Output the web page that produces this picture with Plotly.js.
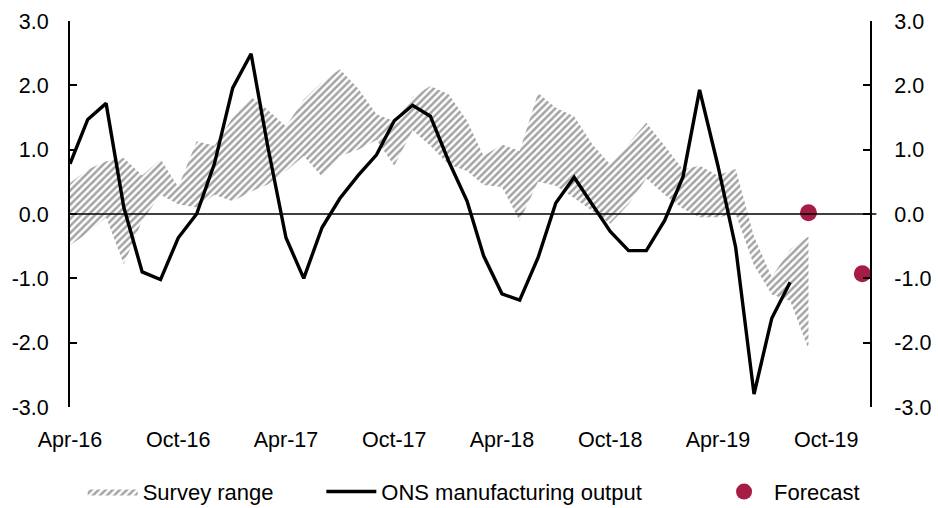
<!DOCTYPE html>
<html>
<head>
<meta charset="utf-8">
<script src="https://cdn.plot.ly/plotly-3.0.1.min.js"></script>
<style>html,body{margin:0;padding:0;background:#fff;}#chart{width:938px;height:508px;}</style>
</head>
<body>
<div id="chart"></div>
<script>
const months = [
  '2016-04-01','2016-05-01','2016-06-01','2016-07-01','2016-08-01','2016-09-01','2016-10-01','2016-11-01','2016-12-01',
  '2017-01-01','2017-02-01','2017-03-01','2017-04-01','2017-05-01','2017-06-01','2017-07-01','2017-08-01','2017-09-01',
  '2017-10-01','2017-11-01','2017-12-01','2018-01-01','2018-02-01','2018-03-01','2018-04-01','2018-05-01','2018-06-01',
  '2018-07-01','2018-08-01','2018-09-01','2018-10-01','2018-11-01','2018-12-01','2019-01-01','2019-02-01','2019-03-01',
  '2019-04-01','2019-05-01','2019-06-01','2019-07-01','2019-08-01','2019-09-01'
];
const surveyUpper = [0.48,0.69,0.82,0.87,0.60,0.85,0.42,1.13,1.06,1.50,1.82,1.62,1.36,1.78,2.05,2.25,1.95,1.55,1.44,1.82,1.99,1.86,1.45,0.90,1.08,0.98,1.88,1.65,1.52,1.08,0.77,1.10,1.42,1.06,0.69,0.75,0.60,0.70,-0.35,-0.98,-0.55,-0.35];
const surveyLower = [-0.48,-0.30,-0.05,-0.78,-0.10,0.30,0.15,0.10,0.30,0.20,0.35,0.46,0.67,0.90,0.58,0.90,1.00,1.15,0.75,1.30,1.06,0.77,0.67,0.45,0.42,-0.11,0.50,0.44,0.25,0.05,-0.15,0.15,0.55,0.30,0.08,-0.05,-0.05,0.00,-0.80,-1.25,-1.35,-2.10];
const onsOutput = [0.78,1.47,1.72,0.10,-0.90,-1.02,-0.37,0.00,0.78,1.96,2.49,1.06,-0.37,-1.00,-0.21,0.24,0.60,0.92,1.45,1.69,1.52,0.82,0.20,-0.65,-1.24,-1.34,-0.68,0.17,0.57,0.15,-0.27,-0.57,-0.57,-0.10,0.58,1.93,0.75,-0.52,-2.80,-1.62,-1.06];
const forecastDates = ['2019-09-01','2019-12-01'];
const forecastValues = [0.02,-0.93];
const yTickVals = [-3,-2,-1,0,1,2,3];
const yTickText = ['-3.0','-2.0','-1.0','0.0','1.0','2.0','3.0'];
const xTickVals = ['2016-04-01','2016-10-01','2017-04-01','2017-10-01','2018-04-01','2018-10-01','2019-04-01','2019-10-01'];
const xTickText = ['Apr-16','Oct-16','Apr-17','Oct-17','Apr-18','Oct-18','Apr-19','Oct-19'];
const seriesNames = ['Survey range', 'ONS manufacturing output', 'Forecast'];

const font = {family: '"Liberation Sans", Arial, sans-serif', size: 21.5, color: '#000'};
const legendFont = {family: '"Liberation Sans", Arial, sans-serif', size: 22, color: '#000'};
const pad = n => '\u00a0'.repeat(n);

const traces = [
  {x: months, y: surveyLower, type: 'scatter', mode: 'lines', line: {width: 0, color: 'rgba(0,0,0,0)'},
   showlegend: false, hoverinfo: 'skip'},
  {x: months, y: surveyUpper, type: 'scatter', mode: 'lines', name: seriesNames[0] + pad(7), fill: 'tonexty',
   line: {width: 0, color: 'rgba(0,0,0,0)'}, fillcolor: 'rgba(0,0,0,0)',
   fillpattern: {shape: '/', fgcolor: '#a3a3a3', bgcolor: 'rgba(255,255,255,0)', size: 5, solidity: 0.5}},
  {x: months.slice(0, onsOutput.length), y: onsOutput, type: 'scatter', mode: 'lines', name: seriesNames[1] + pad(11),
   line: {color: '#000', width: 3.4}},
  {x: forecastDates, y: forecastValues, type: 'scatter', mode: 'markers', name: seriesNames[2], yaxis: 'y2',
   marker: {color: '#a51d45', size: 17}}
];

const yBase = {range: [-3, 3], tickvals: yTickVals, ticktext: yTickText, showgrid: false, zeroline: false,
  showline: true, linecolor: '#000', linewidth: 2, ticks: 'inside', ticklen: 7, tickwidth: 2, tickcolor: '#000',
  tickfont: font, fixedrange: true};

const layout = {
  width: 938, height: 508,
  margin: {l: 70, r: 68, t: 21, b: 101},
  paper_bgcolor: '#fff', plot_bgcolor: '#fff',
  font: font,
  showlegend: true,
  xaxis: {type: 'date', range: ['2016-04-01', '2019-12-14'], tickvals: xTickVals, ticktext: xTickText,
    showgrid: false, zeroline: false, showline: false, ticks: '', tickfont: font, ticklabelstandoff: 17},
  yaxis: Object.assign({}, yBase, {side: 'left', ticklabelstandoff: 15}),
  yaxis2: Object.assign({}, yBase, {side: 'right', overlaying: 'y', anchor: 'x', ticklabelstandoff: 18}),
  shapes: [{type: 'line', xref: 'paper', yref: 'y', x0: 0, x1: 1.008, y0: 0, y1: 0, line: {color: '#000', width: 1.5}}],
  legend: {orientation: 'h', traceorder: 'normal', xref: 'container', yref: 'container', x: 0.505, xanchor: 'center',
    y: 0.032, yanchor: 'middle', font: legendFont, itemwidth: 50, tracegroupgap: 0, bgcolor: 'rgba(0,0,0,0)'}
};

Plotly.newPlot('chart', traces, layout, {displayModeBar: false, staticPlot: true});
</script>
</body>
</html>
